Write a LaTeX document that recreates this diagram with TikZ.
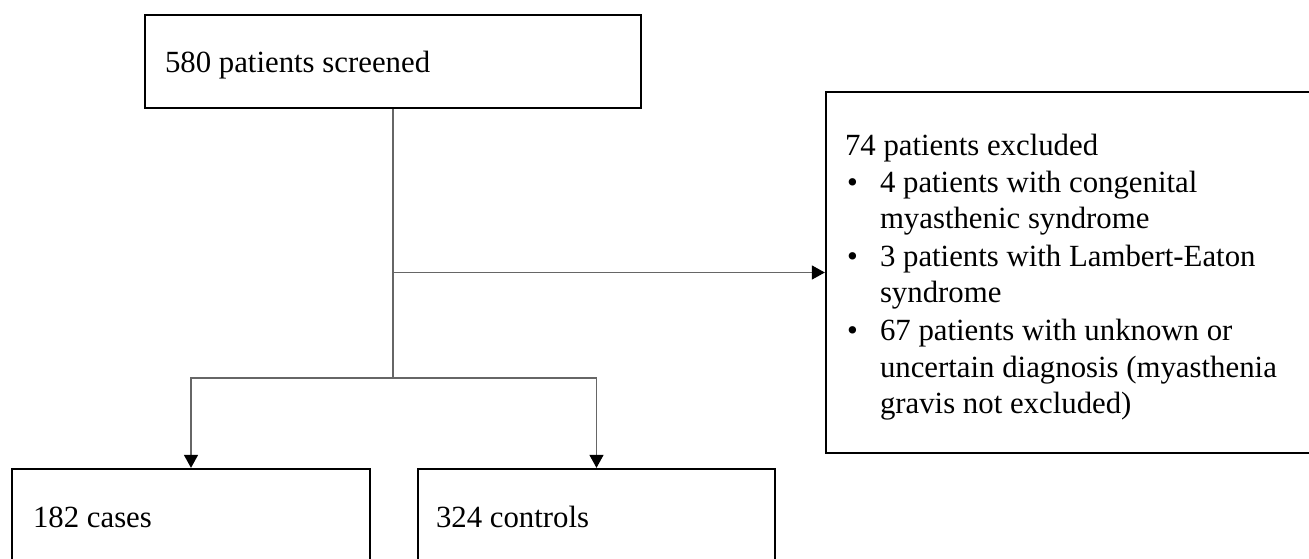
\documentclass[tikz,border=0pt]{standalone}
\usepackage{fontspec}
\setmainfont{Liberation Serif}
\usetikzlibrary{arrows.meta}
\begin{document}
\begin{tikzpicture}[x=1pt,y=-1pt,
  box/.style={draw=black,line width=2.3pt,rectangle,inner sep=0pt,fill=none},
  txt/.style={anchor=base west,inner sep=0pt,outer sep=0pt,font=\fontsize{30.8}{37}\selectfont},
  conn/.style={draw=black!60,line width=1.3pt},
  arr/.style={conn,-{Triangle[length=13pt,width=14pt,color=black]}}]
\useasboundingbox (0,0) rectangle (1309,558);
\clip (0,0) rectangle (1309,558);
% boxes
\node[box,minimum width=496pt,minimum height=93pt] (top) at (393,61.5) {};
\node[box,minimum width=514pt,minimum height=361pt] (excl) at (1083,272.5) {};
\node[box,minimum width=358pt,minimum height=131pt] (cases) at (191,534.5) {};
\node[box,minimum width=357pt,minimum height=131pt] (controls) at (596.5,534.5) {};
% texts
\node[txt] (ttop) at (165,72.5) {580 patients screened};
\node[txt] (tcases) at (33,527) {182 cases};
\node[txt] (tcontrols) at (436,527) {324 controls};
\node[txt] (e0) at (845,155) {74 patients excluded};
\node[txt] (b1) at (847,192) {•};
\node[txt] (e1) at (880,192) {4 patients with congenital};
\node[txt] (e2) at (880,228.5) {myasthenic syndrome};
\node[txt] (b2) at (847,266) {•};
\node[txt] (e3) at (880,266) {3 patients with Lambert-Eaton};
\node[txt] (e4) at (880,302.5) {syndrome};
\node[txt] (b3) at (847,340) {•};
\node[txt] (e5) at (880,340) {67 patients with unknown or};
\node[txt] (e6) at (880,377) {uncertain diagnosis (myasthenia};
\node[txt] (e7) at (880,413.5) {gravis not excluded)};
% connectors
\coordinate (j) at (393,378);
\draw[conn] (top.south) -- (j);
\draw[arr] (top.south |- excl.west) -- (excl.west);
\draw[arr] (j) -| (cases.north);
\draw[arr] (j) -| (controls.north);
\end{tikzpicture}
\end{document}
